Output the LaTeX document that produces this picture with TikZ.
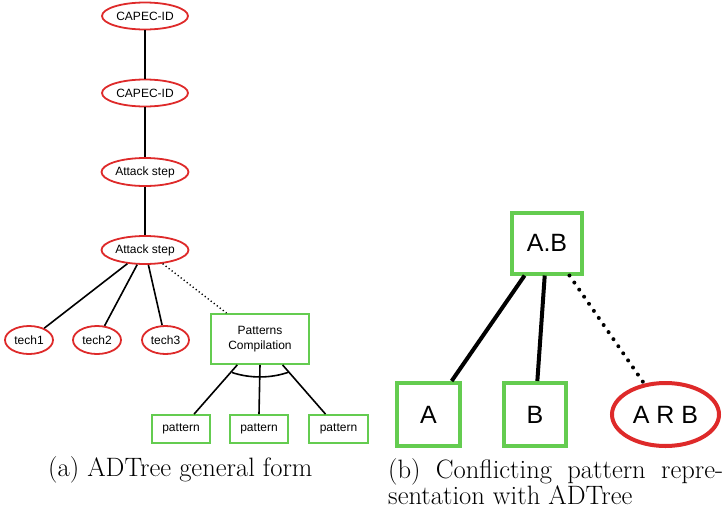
\documentclass[tikz,border=0pt]{standalone}
\usepackage{fontspec}
\newfontfamily\arialfont{Liberation Sans}
\usetikzlibrary{shapes.geometric}
\definecolor{adred}{RGB}{222,42,42}
\definecolor{adgreen}{RGB}{100,204,80}
\tikzset{
  redell/.style={ellipse, draw=adred, line width=1.8pt, inner sep=0pt, font=\arialfont\fontsize{12}{14}\selectfont},
  greenbox/.style={rectangle, draw=adgreen, line width=1.8pt, inner sep=0pt, font=\arialfont\fontsize{12}{15}\selectfont, align=center},
  edge/.style={line width=1.6pt, black},
  dotedge/.style={line width=1.4pt, black, dash pattern=on 1.2pt off 2.6pt},
  bigbox/.style={rectangle, draw=adgreen, line width=4pt, inner sep=0pt, font=\arialfont\fontsize{25}{30}\selectfont},
  bigell/.style={ellipse, draw=adred, line width=4pt, inner sep=0pt, font=\arialfont\fontsize{25}{30}\selectfont},
  bigedge/.style={line width=4pt, black},
  bigdot/.style={line width=4pt, black, line cap=round, dash pattern=on 0pt off 8.6pt},
  captext/.style={font=\fontsize{26.6}{26.5}\selectfont, inner sep=0pt}
}
\begin{document}
\begin{tikzpicture}[x=1pt,y=-1pt]
\useasboundingbox (0,0) rectangle (726,512);
% (a)
\node[redell, minimum width=86pt, minimum height=27pt] (c1) at (145,16) {CAPEC-ID};
\node[redell, minimum width=86pt, minimum height=27pt] (c2) at (145,93) {CAPEC-ID};
\node[redell, minimum width=87pt, minimum height=28pt] (s1) at (145,172) {Attack step};
\node[redell, minimum width=87pt, minimum height=28pt] (s2) at (145,250) {Attack step};
\node[redell, minimum width=48pt, minimum height=28pt] (t1) at (29,340) {tech1};
\node[redell, minimum width=48pt, minimum height=28pt] (t2) at (97,340) {tech2};
\node[redell, minimum width=47pt, minimum height=28pt] (t3) at (165.5,340) {tech3};
\node[greenbox, minimum width=98pt, minimum height=50pt] (pc) at (260,339) {Patterns\\Compilation};
\node[greenbox, minimum width=58pt, minimum height=28pt] (p1) at (181,429) {pattern};
\node[greenbox, minimum width=58pt, minimum height=28pt] (p2) at (259,429) {pattern};
\node[greenbox, minimum width=59pt, minimum height=28pt] (p3) at (338.5,429) {pattern};
\draw[edge] (c1) -- (c2);
\draw[edge] (c2) -- (s1);
\draw[edge] (s1) -- (s2);
\draw[edge] (s2) -- (t1);
\draw[edge] (s2) -- (t2);
\draw[edge] (s2) -- (t3);
\draw[dotedge] (s2) -- (pc);
\draw[edge] (pc) -- (p1);
\draw[edge] (pc.south) -- (p2.north);
\draw[edge] (pc) -- (p3);
\coordinate (arcL) at (232,372.5);
\coordinate (arcR) at (289,372);
\draw[edge] (arcL) .. controls (250,378.5) and (271,378.5) .. (arcR);
\node[captext, anchor=base west] (capa) at (48,476) {(a) ADTree general form};
% (b)
\node[bigbox, minimum width=70pt, minimum height=61pt] (ab) at (547,243) {A.B};
\node[bigbox, minimum width=63pt, minimum height=63pt] (a) at (428.5,414.5) {A};
\node[bigbox, minimum width=62pt, minimum height=63pt] (b) at (535,414.5) {B};
\node[bigell, minimum width=107pt, minimum height=63pt] (arb) at (665.5,414.5) {A R B};
\draw[bigedge] (ab) -- (a);
\draw[bigedge] (ab) -- (b);
\draw[bigdot] (ab) -- (arb);
\node[captext, anchor=north west, text width=335pt, align=justify] (capb) at (388,458) {(b) Conflicting pattern repre-\linebreak sentation with ADTree};
\end{tikzpicture}
\end{document}
